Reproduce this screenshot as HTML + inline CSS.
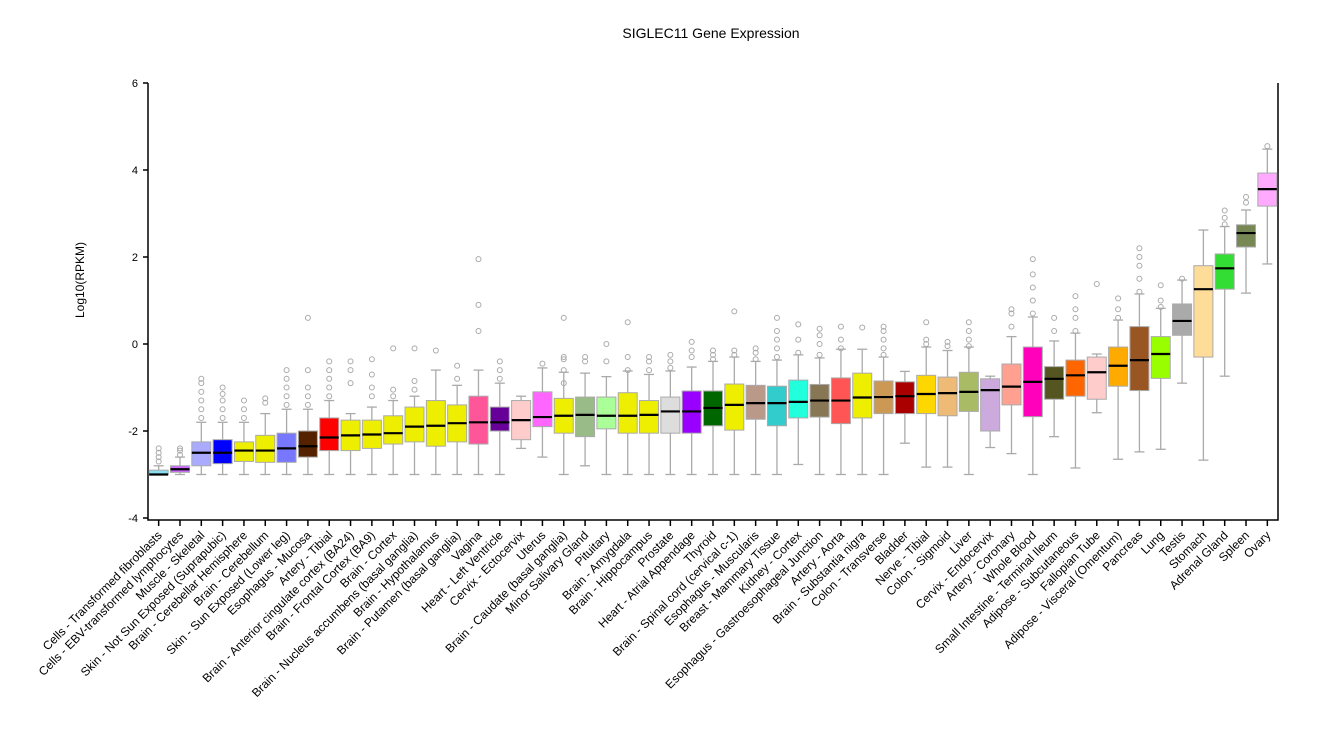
<!DOCTYPE html>
<html><head><meta charset="utf-8"><style>
body{margin:0;background:#fff;font-family:"Liberation Sans",Arial,sans-serif}
svg text{font-family:"Liberation Sans",Arial,sans-serif}
</style></head><body>
<svg id="chart" width="1333" height="727" viewBox="0 0 1333 727" xmlns="http://www.w3.org/2000/svg">
<text x="711" y="38" font-size="14" text-anchor="middle" fill="#000">SIGLEC11 Gene Expression</text>
<text x="0" y="0" font-size="12" text-anchor="middle" transform="translate(84,280) rotate(-90)">Log10(RPKM)</text>
<g id="plot"></g>
</svg>
<script>
const tissues=["Cells - Transformed fibroblasts","Cells - EBV-transformed lymphocytes","Muscle - Skeletal","Skin - Not Sun Exposed (Suprapubic)","Brain - Cerebellar Hemisphere","Brain - Cerebellum","Skin - Sun Exposed (Lower leg)","Esophagus - Mucosa","Artery - Tibial","Brain - Anterior cingulate cortex (BA24)","Brain - Frontal Cortex (BA9)","Brain - Cortex","Brain - Nucleus accumbens (basal ganglia)","Brain - Hypothalamus","Brain - Putamen (basal ganglia)","Vagina","Heart - Left Ventricle","Cervix - Ectocervix","Uterus","Brain - Caudate (basal ganglia)","Minor Salivary Gland","Pituitary","Brain - Amygdala","Brain - Hippocampus","Prostate","Heart - Atrial Appendage","Thyroid","Brain - Spinal cord (cervical c-1)","Esophagus - Muscularis","Breast - Mammary Tissue","Kidney - Cortex","Esophagus - Gastroesophageal Junction","Artery - Aorta","Brain - Substantia nigra","Colon - Transverse","Bladder","Nerve - Tibial","Colon - Sigmoid","Liver","Cervix - Endocervix","Artery - Coronary","Whole Blood","Small Intestine - Terminal Ileum","Adipose - Subcutaneous","Fallopian Tube","Adipose - Visceral (Omentum)","Pancreas","Lung","Testis","Stomach","Adrenal Gland","Spleen","Ovary"];
const medians=[-3.0,-2.88,-2.5,-2.5,-2.45,-2.45,-2.4,-2.35,-2.15,-2.1,-2.08,-2.05,-1.9,-1.88,-1.82,-1.8,-1.8,-1.75,-1.68,-1.65,-1.63,-1.65,-1.65,-1.63,-1.55,-1.55,-1.47,-1.4,-1.36,-1.36,-1.33,-1.3,-1.3,-1.23,-1.22,-1.2,-1.15,-1.13,-1.1,-1.06,-0.98,-0.87,-0.8,-0.72,-0.65,-0.5,-0.37,-0.23,0.53,1.26,1.74,2.55,3.56];
const q1s=[-3.0,-2.95,-2.8,-2.75,-2.7,-2.72,-2.72,-2.6,-2.45,-2.45,-2.4,-2.3,-2.25,-2.35,-2.25,-2.3,-2.0,-2.2,-1.9,-2.05,-2.13,-1.95,-2.05,-2.05,-2.05,-2.05,-1.88,-1.98,-1.73,-1.88,-1.7,-1.68,-1.83,-1.7,-1.6,-1.6,-1.6,-1.65,-1.55,-2.0,-1.4,-1.67,-1.27,-1.2,-1.27,-0.97,-1.07,-0.79,0.2,-0.3,1.26,2.23,3.17];
const q3s=[-2.9,-2.8,-2.25,-2.2,-2.25,-2.1,-2.05,-2.0,-1.7,-1.75,-1.75,-1.65,-1.45,-1.3,-1.4,-1.2,-1.45,-1.3,-1.1,-1.25,-1.22,-1.22,-1.12,-1.3,-1.22,-1.08,-1.08,-0.92,-0.95,-0.97,-0.83,-0.93,-0.78,-0.67,-0.85,-0.87,-0.72,-0.76,-0.65,-0.8,-0.46,-0.07,-0.52,-0.37,-0.3,-0.07,0.4,0.17,0.92,1.8,2.07,2.74,3.93];
const lows=[-3,-3,-3,-3,-3,-3,-3,-3,-3,-3,-3,-3,-3,-3,-3,-3,-3,-2.4,-2.6,-3,-2.8,-3,-3,-3,-3,-3,-3,-3,-3,-3,-2.77,-3,-3,-3,-3,-2.28,-2.83,-2.83,-3.0,-2.38,-2.52,-3.0,-2.13,-2.85,-1.58,-2.65,-2.48,-2.42,-0.9,-2.67,-0.74,1.17,1.84];
const highs=[-2.8,-2.6,-1.8,-1.8,-1.8,-1.6,-1.5,-1.5,-1.3,-1.6,-1.45,-1.3,-1.2,-0.6,-0.95,-0.6,-0.9,-1.2,-0.55,-0.65,-0.67,-0.75,-0.62,-0.7,-0.62,-0.53,-0.4,-0.3,-0.4,-0.37,-0.25,-0.32,-0.12,-0.12,-0.3,-0.63,-0.07,-0.15,-0.07,-0.74,0.17,0.62,0.07,0.25,-0.23,0.55,1.15,0.82,1.47,2.62,2.7,3.08,4.48];
const outliers=[[-2.7,-2.6,-2.5,-2.4],[-2.55,-2.45,-2.4],[-1.7,-1.5,-1.3,-1.1,-0.9,-0.8],[-1.7,-1.5,-1.3,-1.15,-1.0],[-1.7,-1.5,-1.3],[-1.35,-1.25],[-1.4,-1.2,-1.0,-0.8,-0.6],[-1.4,-1.2,-1.0,-0.6,0.6],[-1.2,-1.0,-0.8,-0.6,-0.4],[-0.9,-0.6,-0.4],[-1.2,-1.0,-0.7,-0.35],[-1.2,-1.05,-0.1],[-1.05,-0.85,-0.1],[-0.15],[-0.8,-0.5],[0.3,0.9,1.95],[-0.8,-0.6,-0.4],[],[-0.45],[-0.9,-0.6,-0.35,-0.3,0.6],[-0.4,-0.3],[-0.4,0.0],[-0.6,-0.3,0.5],[-0.6,-0.4,-0.3],[-0.55,-0.4,-0.25],[-0.3,-0.15,0.05],[-0.35,-0.25,-0.15],[-0.25,-0.15,0.75],[-0.35,-0.2,-0.1],[-0.3,-0.1,0.1,0.3,0.6],[-0.2,0.1,0.45],[-0.25,0.0,0.2,0.35],[-0.1,0.1,0.4],[0.38],[-0.25,-0.1,0.1,0.3,0.4],[],[0.0,0.1,0.5],[-0.05,0.05],[-0.05,0.1,0.3,0.5],[],[0.4,0.7,0.8],[0.7,1.0,1.3,1.6,1.95],[0.3,0.6],[0.3,0.6,0.8,1.1],[1.38],[0.6,0.8,1.05],[1.2,1.5,1.8,2.0,2.2],[0.85,1.0,1.35],[1.5],[],[2.75,2.9,3.07],[3.25,3.38],[4.55]];
const colors=["#88ddee","#cc66ff","#aaaaff","#0000ff","#eeee00","#eeee00","#7777ff","#552200","#ff0000","#eeee00","#eeee00","#eeee00","#eeee00","#eeee00","#eeee00","#ff5599","#660099","#ffcccc","#ff66ff","#eeee00","#99bb88","#aaff99","#eeee00","#eeee00","#dddddd","#9900ff","#006600","#eeee00","#bb9988","#33cccc","#22ffdd","#887755","#ff5555","#eeee00","#cc9955","#aa0000","#ffd700","#eebb77","#aabb66","#ccaadd","#ffa090","#ff00bb","#555522","#ff6600","#ffcccc","#ffaa00","#995522","#99ff00","#aaaaaa","#ffdd99","#33dd33","#778855","#ffaaff"];
const yTicks=[-4,-2,0,2,4,6];

const NS="http://www.w3.org/2000/svg";
const X0=148,X1=1278,Y0=518,Y1=83;
const band=(X1-X0)/tissues.length;
function xPos(i){return X0+band*(i+0.5);}
function yPos(v){return Y0-(v-(-4))*(Y0-Y1)/10;}
const g=document.getElementById('plot');
function mk(tag,attrs,parent){const e=document.createElementNS(NS,tag);for(const k in attrs)e.setAttribute(k,attrs[k]);(parent||g).appendChild(e);return e;}

const ax=mk('path',{d:`M${X0},${Y1} L${X0},${Y0+2} L${X1},${Y0+2} L${X1},${Y1}`,fill:'none',stroke:'#000','stroke-width':1.5});


yTicks.forEach(t=>{
  const y=yPos(t);
  const tk=mk('line',{x1:X0-5,x2:X0,y1:y,y2:y,stroke:'#000','stroke-width':1.5});
  
  
  const tl=mk('text',{x:X0-10,y:y+4,'font-size':11,'text-anchor':'end'});
  tl.textContent=t;
  
  
});
tissues.forEach((name,i)=>{
  const cx=xPos(i),w=19;
  const grp=mk('g',{});
  
  
  mk('line',{x1:cx,x2:cx,y1:yPos(lows[i]),y2:yPos(highs[i]),stroke:'#aaa','stroke-width':1.3},grp);
  mk('line',{x1:cx-5,x2:cx+5,y1:yPos(lows[i]),y2:yPos(lows[i]),stroke:'#aaa','stroke-width':1.3},grp);
  mk('line',{x1:cx-5,x2:cx+5,y1:yPos(highs[i]),y2:yPos(highs[i]),stroke:'#aaa','stroke-width':1.3},grp);
  const top=yPos(q3s[i]),bot=yPos(q1s[i]);
  mk('rect',{x:cx-w/2,y:top,width:w,height:Math.max(bot-top,1.5),fill:colors[i],stroke:'#aaa','stroke-width':1},grp);
  mk('line',{x1:cx-w/2,x2:cx+w/2,y1:yPos(medians[i]),y2:yPos(medians[i]),stroke:'#000','stroke-width':2.2},grp);
  outliers[i].forEach(v=>{
    const c=mk('circle',{cx:cx,cy:yPos(v),r:2.5,fill:'none',stroke:'#aaa','stroke-width':1},grp);
    
    
  });
  const tk=mk('line',{x1:cx,x2:cx,y1:Y0+2,y2:Y0+8,stroke:'#000','stroke-width':1.5});
  
  
  const lb=mk('text',{x:cx+4,y:Y0+18,'font-size':12,'text-anchor':'end',transform:`rotate(-45 ${cx+4} ${Y0+18})`});
  lb.textContent=name;
  
  
});
</script>
</body></html>
